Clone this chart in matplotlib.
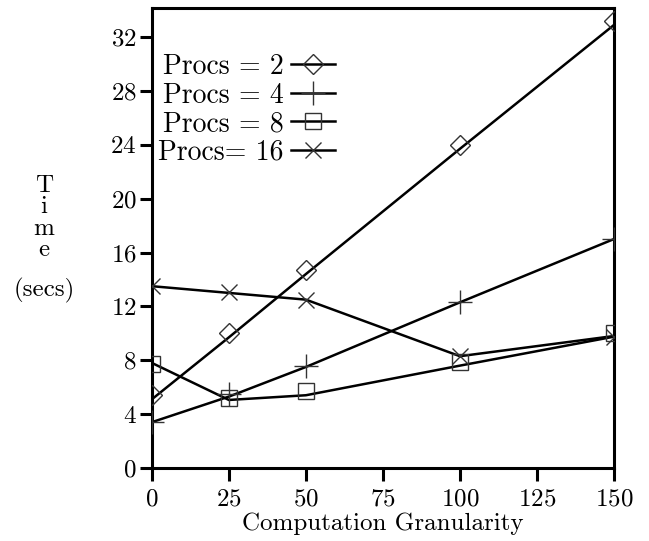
import matplotlib
matplotlib.use("Agg")
import matplotlib.pyplot as plt

plt.rcParams['font.family'] = ['cmr10', 'DejaVu Serif']
plt.rcParams['axes.formatter.use_mathtext'] = True
plt.rcParams['mathtext.fontset'] = 'cm'

# granularity values
gran = [0, 25, 50, 100, 150]

# measured points (markers)
p2_pts  = [5.4, 10.0, 14.7, 24.0, 33.2]
p4_pts  = [3.4, 5.5, 7.6, 12.35, 17.0]
p8_pts  = [7.7, 5.2, 5.7, 7.9, 10.05]
p16_pts = [13.5, 13.05, 12.45, 8.3, 9.7]

# connecting lines
p2_line  = [5.1, 9.7, 14.4, 23.7, 32.9]
p4_line  = [3.4, 5.3, 7.5, 12.3, 17.0]
p8_line  = [7.8, 5.05, 5.4, 7.6, 9.75]
p16_line = [13.5, 13.0, 12.5, 8.3, 9.8]

labels = ['Procs = 2', 'Procs = 4', 'Procs = 8', 'Procs= 16']

fig = plt.figure(figsize=(6.49, 5.41), dpi=100)
ax = fig.add_axes([0.234, 0.135, 0.712, 0.850])

series = [
    (p2_pts, p2_line, 'D', 10),
    (p4_pts, p4_line, '+', 17),
    (p8_pts, p8_line, 's', 12),
    (p16_pts, p16_line, 'x', 11),
]

handles = []
for (pts, line, mk, ms), lab in zip(series, labels):
    ax.plot(gran, line, color='black', lw=1.8, zorder=2)
    ax.plot(gran, pts, linestyle='none', marker=mk, markersize=ms,
            markerfacecolor='none', markeredgecolor='#333333',
            markeredgewidth=1.0, zorder=3)
    h, = ax.plot([], [], color='black', lw=1.8, marker=mk, markersize=ms,
                 markerfacecolor='none', markeredgecolor='#333333',
                 markeredgewidth=1.0)
    handles.append(h)

ax.set_xlim(0, 150)
ax.set_ylim(0, 34.15)
ax.set_xticks([0, 25, 50, 75, 100, 125, 150])
ax.set_yticks(range(0, 33, 4))

for s in ax.spines.values():
    s.set_linewidth(2.2)
ax.tick_params(direction='out', length=9, width=2.2, labelsize=18, pad=2)
ax.tick_params(axis='x', pad=6)

ax.set_xlabel('Computation Granularity', fontsize=18, labelpad=1)

fig.text(0.068, 0.597, 'T\ni\nm\ne', ha='center', va='center',
         fontsize=18, linespacing=0.95)
fig.text(0.068, 0.464, '(secs)', ha='center', va='center', fontsize=18)

ax.legend(handles, labels, loc='upper left', bbox_to_anchor=(-0.01, 0.925),
          frameon=False, markerfirst=False, fontsize=20, handlelength=1.6,
          handletextpad=0.25, labelspacing=0.08, borderaxespad=0)

fig.savefig('out.png', dpi=100)
